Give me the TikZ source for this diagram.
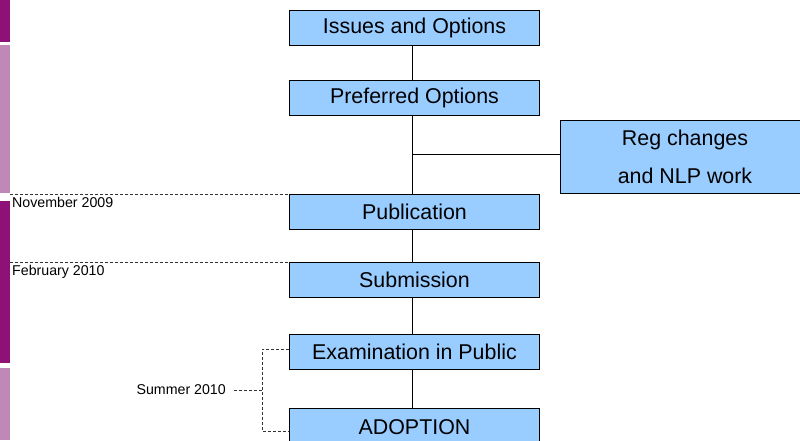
\documentclass[tikz,border=0pt]{standalone}
\usepackage{fontspec}
\setmainfont{Liberation Sans}
\definecolor{boxblue}{HTML}{99CCFF}
\definecolor{darkpurp}{HTML}{8F1077}
\definecolor{lightpurp}{HTML}{C088B6}
\begin{document}
\begin{tikzpicture}[x=1pt,y=-1pt,
  stepbox/.style={draw=black, line width=0.8pt, fill=boxblue, minimum width=250pt, minimum height=35pt, inner sep=0pt, font=\fontsize{21.4}{25}\selectfont},
  conn/.style={draw=black, line width=0.8pt},
  dsh/.style={draw=black!80, line width=0.6pt, dash pattern=on 3pt off 2pt},
  datelbl/.style={font=\fontsize{14.2}{16}\selectfont, inner sep=0pt}]
\useasboundingbox (0,0) rectangle (800,440);
\clip (0,0) rectangle (800,440);
% left bars
\fill[darkpurp] (0,0) rectangle (10,42);
\fill[lightpurp] (0,45) rectangle (10,193);
\fill[darkpurp] (0,201) rectangle (10,363);
\fill[lightpurp] (0,368) rectangle (10,440);
% boxes
\node[stepbox] (issues) at (414.5,27.5) {Issues and Options};
\node[stepbox] (pref) at (414.5,97.5) {Preferred Options};
\node[stepbox] (pub) at (414.5,211.5) {Publication};
\node[stepbox] (sub) at (414.5,279.5) {Submission};
\node[stepbox] (exam) at (414.5,351.5) {Examination in Public};
\node[stepbox, minimum height=44pt] (adopt) at (414.5,430) {};
\node[font=\fontsize{21.4}{25}\selectfont, inner sep=0pt] (adopttxt) at (414.5,427) {ADOPTION};
\node[stepbox, minimum height=73pt, align=center, font=\fontsize{21.4}{38}\selectfont] (reg) at (685,156.5) {Reg changes\\and NLP work};
% connectors
\draw[conn] ([xshift=-2.5pt]issues.south) -- ([xshift=-2.5pt]pref.north);
\draw[conn] ([xshift=-2.5pt]pref.south) -- ([xshift=-2.5pt]pub.north);
\draw[conn] ([xshift=-2.5pt]pub.south) -- ([xshift=-2.5pt]sub.north);
\draw[conn] ([xshift=-2.5pt]sub.south) -- ([xshift=-2.5pt]exam.north);
\draw[conn] ([xshift=-2.5pt]exam.south) -- ([xshift=-2.5pt]adopt.north);
\coordinate (j) at (412,154);
\draw[conn] (j) -- (j -| reg.west);
% date lines
\coordinate (n1) at (10,194);
\coordinate (n2) at (10,262);
\draw[dsh] (n1) -- (n1 -| pub.west);
\draw[dsh] (n2) -- (n2 -| sub.west);
\node[datelbl, anchor=north west] (nov) at (12,197) {November 2009};
\node[datelbl, anchor=north west] (feb) at (12,265) {February 2010};
% summer bracket
\coordinate (b1) at (262,349);
\coordinate (b2) at (262,431);
\coordinate (bm) at (262,390);
\draw[dsh] (exam.west |- b1) -- (b1) -- (b2) -- (adopt.west |- b2);
\node[datelbl, anchor=east] (summer) at (226,390) {Summer 2010};
\draw[dsh] (234,390) -- (bm);
\end{tikzpicture}
\end{document}
